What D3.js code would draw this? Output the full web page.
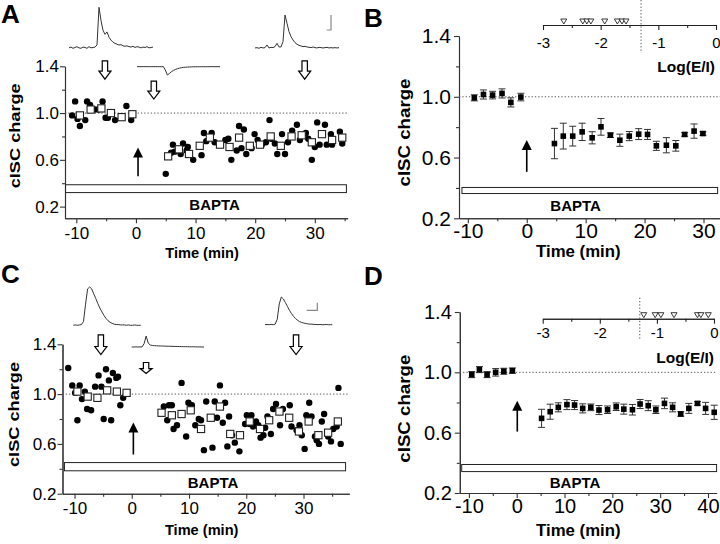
<!DOCTYPE html>
<html><head><meta charset="utf-8">
<script src="https://cdn.jsdelivr.net/npm/d3@7"></script>
<style>
body{margin:0;background:#fff;}
svg{display:block;font-family:"Liberation Sans",Arial,sans-serif;}
</style></head><body>
<svg id="fig" width="720" height="544"></svg>
<script>
// ---- data ----
// panel A: single cell, filled circles = single sweeps, open squares = 1-min means
const aCircles = [[-10.7,0.98],[-10.2,1.10],[-9.8,0.95],[-9.4,0.89],[-8.5,0.94],[-8.2,1.10],[-7.7,1.07],[-6.9,1.03],[-6.3,1.03],[-5.6,1.10],[-5.1,0.96],[-4.7,0.96],[-3.5,0.94],[-1.6,1.06],[-0.8,0.94],
  [5.0,0.48],[5.9,0.66],[6.2,0.73],[6.5,0.67],[7.5,0.65],[7.9,0.74],[8.5,0.68],[8.7,0.71],[9.6,0.60],[11.0,0.64],[11.4,0.83],[11.8,0.76],[12.7,0.83],[13.2,0.75],[15.0,0.77],[15.5,0.78],[16.0,0.60],[16.9,0.68],[17.3,0.89],[17.7,0.70],[18.1,0.86],[18.5,0.65],[19.4,0.70],[19.9,0.82],[20.4,0.77],[21.1,0.73],[21.8,0.75],[22.4,0.94],[22.7,0.78],[23.3,0.74],[23.7,0.65],[24.5,0.82],[25.0,0.65],[25.5,0.75],[26.2,0.85],[27.0,0.90],[27.5,0.77],[28.5,0.83],[28.9,0.78],[29.5,0.60],[30.0,0.71],[30.4,0.92],[30.8,0.73],[31.7,0.90],[32.0,0.73],[32.7,0.82],[32.9,0.73],[34.2,0.84],[34.6,0.74]];
const aSquares = [[-9.4,0.98],[-7.6,1.03],[-5.8,1.04],[-4.2,1.00],[-2.4,0.965],[-0.6,0.99],
  [5.4,0.63],[7.2,0.69],[8.9,0.65],[10.7,0.72],[12.4,0.79],[14.1,0.73],[15.7,0.71],[17.3,0.79],[19.1,0.72],[20.8,0.73],[22.6,0.80],[24.3,0.72],[26.1,0.80],[27.8,0.81],[29.5,0.75],[31.2,0.82],[32.9,0.77],[34.6,0.79]];

// panel C
const cCircles = [[-11.1,1.21],[-10.4,1.07],[-9.9,1.01],[-9.5,0.79],[-9.1,1.07],[-8.7,0.96],[-8.2,1.02],[-7.8,0.88],[-7.1,0.87],[-6.4,1.06],[-5.8,1.15],[-5.3,1.06],[-4.9,0.80],[-4.5,1.20],[-4.0,1.11],[-3.6,0.79],[-3.3,1.17],[-2.7,1.13],[-2.4,1.14],[-2.0,0.91],[-1.5,0.97],
  [5.6,0.90],[6.2,0.79],[6.5,0.91],[7.0,0.91],[7.3,0.72],[7.9,0.75],[8.7,1.09],[9.5,0.66],[9.9,0.93],[10.5,0.91],[11.1,0.75],[11.7,0.80],[12.1,0.79],[12.6,0.55],[13.0,0.94],[14.1,0.57],[14.5,0.94],[14.9,0.81],[15.4,1.07],[15.9,0.77],[16.3,0.93],[16.7,0.58],[17.0,0.82],[17.5,0.67],[18.0,0.61],[18.8,0.54],[19.8,0.76],[20.1,0.83],[20.6,0.76],[20.9,0.83],[21.2,0.74],[21.7,0.78],[22.1,0.75],[22.5,0.65],[23.0,0.67],[23.3,0.73],[23.7,0.82],[24.3,0.68],[24.7,0.88],[25.2,0.92],[25.9,0.75],[26.4,0.88],[27.6,0.91],[27.9,0.74],[28.8,0.71],[29.3,0.75],[29.7,0.67],[30.2,0.56],[30.5,0.83],[31.0,0.93],[31.4,0.82],[32.0,0.66],[32.3,0.63],[32.7,0.60],[33.2,0.78],[33.6,0.84],[34.3,0.66],[34.8,0.62],[35.2,0.72],[35.8,0.74],[36.1,1.05],[36.5,0.60]];
const cSquares = [[-9.5,1.02],[-7.7,0.98],[-6.0,0.97],[-4.3,1.03],[-2.6,1.02],[-0.9,1.01],
  [5.2,0.85],[7.0,0.83],[8.7,0.84],[10.3,0.87],[12.1,0.72],[13.8,0.81],[15.4,0.90],[17.2,0.68],[18.9,0.67],[20.6,0.78],[22.4,0.72],[24.0,0.79],[25.8,0.86],[27.5,0.81],[29.2,0.70],[30.9,0.78],[32.6,0.67],[34.3,0.69],[36.0,0.78]];

// panels B and D: mean, +/- error
const bMeans = [[-8.9,0.993,0.02],[-7.35,1.015,0.03],[-5.8,1.011,0.025],[-4.2,1.022,0.03],[-2.7,0.963,0.03],[-1.0,0.998,0.025],
  [4.7,0.692,0.1],[6.2,0.741,0.085],[7.8,0.741,0.065],[9.4,0.769,0.057],[11.1,0.73,0.04],[12.6,0.802,0.055],[14.2,0.747,0.015],[15.8,0.714,0.04],[17.4,0.741,0.03],[19.0,0.754,0.036],[20.5,0.752,0.033],[22.0,0.677,0.03],[23.7,0.681,0.05],[25.3,0.677,0.035],[26.8,0.752,0.012],[28.4,0.774,0.047],[29.9,0.758,0.012]];
const dMeans = [[-9.4,0.985,0.02],[-7.8,1.018,0.02],[-6.2,0.985,0.02],[-4.4,1.0,0.025],[-2.7,1.007,0.02],[-0.9,1.011,0.018],
  [5.2,0.695,0.06],[7.0,0.739,0.05],[8.7,0.768,0.03],[10.5,0.786,0.033],[12.1,0.783,0.03],[13.8,0.761,0.03],[15.5,0.768,0.022],[17.2,0.75,0.03],[19.0,0.752,0.025],[20.8,0.772,0.025],[22.4,0.756,0.033],[24.2,0.752,0.035],[25.8,0.79,0.03],[27.5,0.779,0.033],[29.1,0.752,0.025],[30.9,0.794,0.035],[32.6,0.768,0.03],[34.3,0.724,0.015],[36.0,0.761,0.033],[37.8,0.794,0.012],[39.5,0.761,0.04],[41.3,0.735,0.047]];

// insets: Log(E/I) of each cell
const bLogEI = [-2.64,-2.31,-2.24,-2.17,-1.93,-1.71,-1.63,-1.56];
const dLogEI = [-1.23,-1.03,-0.93,-0.70,-0.29,-0.23,-0.10];
const logCutoff = -1.3;

const yTicks = [0.2, 0.6, 1.0, 1.4];
const yMinor = [0.4, 0.8, 1.2];
const xTicks = [-10, 0, 10, 20, 30];
const xTicksD = [-10, 0, 10, 20, 30, 40];
const xMinor = [-5, 5, 15, 25, 35];
const logTicks = [-3, -2, -1, 0];
const logMinor = [-2.5, -1.5, -0.5];

// example current traces (normalised amplitude, evenly sampled)
const traceA1 = [0.01,0.03,0,0.02,0.04,0.01,0,0.03,0.02,0,0.04,0.01,0.02,0.03,0.08,1.0,0.68,0.44,0.34,0.4,0.27,0.2,0.15,0.12,0.1,0.08,0.09,0.06,0.05,0.06,0.04,0.03,0.05,0.02,0.04,0.03,0.01,0.03,0.02,0.04,0.01,0.02,0.03];
const traceA2 = [0,0.01,0,0.01,0,0.01,0,0,0.01,0,0.01,0,0,0.02,-0.4,-1.0,-0.82,-0.6,-0.45,-0.33,-0.24,-0.17,-0.12,-0.08,-0.06,-0.04,-0.03,-0.02,-0.01,-0.01,0,-0.01,0,0,-0.01,0,0,0.01,0,0,0,0];
const traceA3 = [0.01,0.02,0,0.03,0.01,0.02,0.1,0.01,0.03,0.02,0.05,0.15,0.04,0.04,0.2,1.0,0.75,0.5,0.35,0.25,0.17,0.12,0.09,0.07,0.05,0.06,0.04,0.03,0.02,0.04,0.02,0.01,0.03,0.02,0.01,0.02,0.03,0.01,0.02,0.01,0.02,0.01,0.02];
const traceC1 = [0,0.01,0,0.01,0.02,0.1,0.55,0.95,1.0,0.95,0.82,0.7,0.57,0.45,0.35,0.26,0.18,0.12,0.08,0.05,0.03,0.02,0.02,0.01,0.01,0.01,0,0.01,0,0,0.01,0,0,0];
const traceC2 = [0,0,0.01,0,0.01,0,0.3,1.0,0.35,0.18,0.14,0.12,0.11,0.1,0.09,0.09,0.08,0.07,0.07,0.06,0.06,0.05,0.05,0.04,0.04,0.03,0.03,0.03,0.02,0.02,0.02,0.01,0.01,0.01,0,0];
const traceC3 = [0,0.01,0,0.01,0,0.02,0.2,0.75,1.0,0.93,0.8,0.66,0.52,0.4,0.3,0.22,0.16,0.11,0.08,0.06,0.04,0.03,0.02,0.02,0.01,0.01,0,0.01,0,0,0.01,0,0,0];

const svg = d3.select("#fig");
const fmt = d => String(d);
const fmt1 = d3.format(".1f");

function makePanel(p) {
  const x = d3.scaleLinear().domain(p.xDomain).range(p.xRange);
  const y = d3.scaleLinear().domain(p.yDomain).range(p.yRange);
  const g = svg.append("g");
  const yBase = p.yRange[0], xBase = p.xRange[0];

  // minor ticks first, then main axes
  g.append("g").attr("transform", `translate(0,${yBase})`)
    .call(d3.axisBottom(x).tickValues(xMinor.filter(v => v < p.xDomain[1])).tickSize(3).tickFormat("").tickSizeOuter(0));
  g.append("g").attr("transform", `translate(${xBase},0)`)
    .call(d3.axisLeft(y).tickValues(yMinor).tickSize(3).tickFormat("").tickSizeOuter(0));
  const xa = g.append("g").attr("transform", `translate(0,${yBase})`)
    .call(d3.axisBottom(x).tickValues(p.xTicks).tickSize(5).tickPadding(p.xPad).tickSizeOuter(0).tickFormat(fmt));
  const ya = g.append("g").attr("transform", `translate(${xBase},0)`)
    .call(d3.axisLeft(y).tickValues(yTicks).tickSize(5).tickPadding(p.yPad).tickSizeOuter(0).tickFormat(fmt1));
  g.selectAll(".domain, .tick line").attr("stroke", "#333").attr("stroke-width", 1.1);
  [xa, ya].forEach(a => a.selectAll("text").attr("font-size", p.tickFont).attr("fill", "#000")
    .style("font-family", "'Liberation Sans', Arial, sans-serif"));

  // reference line at 1.0
  g.append("line").attr("x1", xBase).attr("x2", p.xRange[1]).attr("y1", y(1)).attr("y2", y(1))
    .attr("stroke", "#555").attr("stroke-dasharray", "1.3,2");

  // BAPTA bar
  g.append("rect").attr("x", x(p.bar[0])).attr("width", x(p.bar[1]) - x(p.bar[0]))
    .attr("y", y(p.bar[3])).attr("height", y(p.bar[2]) - y(p.bar[3]))
    .attr("fill", "#fff").attr("stroke", "#222").attr("stroke-width", 1);
  g.append("text").attr("x", x(p.barLabel[0])).attr("y", p.barLabel[1])
    .attr("text-anchor", "middle").attr("font-weight", "bold").attr("font-size", 15).text("BAPTA");

  // upward arrow at time 0
  const ax = x(p.arrow[0]), ay0 = y(p.arrow[1]), ay1 = y(p.arrow[2]);
  g.append("line").attr("x1", ax).attr("x2", ax).attr("y1", ay0).attr("y2", ay1 + 8)
    .attr("stroke", "#000").attr("stroke-width", 1.6);
  g.append("path").attr("d", `M${ax},${ay1} L${ax + 5},${ay1 + 10} L${ax - 5},${ay1 + 10} Z`).attr("fill", "#000");

  // axis titles
  g.append("text").attr("x", p.xTitle[0]).attr("y", p.xTitle[1]).attr("text-anchor", "middle")
    .attr("font-weight", "bold").attr("font-size", p.titleFont).text("Time (min)");
  g.append("text").attr("transform", `translate(${p.yTitle[0]},${p.yTitle[1]}) rotate(-90)`)
    .attr("text-anchor", "middle").attr("font-weight", "bold").attr("font-size", p.titleFont)
    .attr("textLength", p.yTitle[2]).attr("lengthAdjust", "spacingAndGlyphs").text("cISC charge");

  // panel letter
  svg.append("text").attr("x", p.letter[0]).attr("y", p.letter[1]).attr("font-weight", "bold")
    .attr("font-size", 26).text(p.name);
  return { g, x, y };
}

function scatterMarks(P, circles, squares) {
  P.g.append("g").selectAll("circle").data(circles).join("circle")
    .attr("cx", d => P.x(d[0])).attr("cy", d => P.y(d[1])).attr("r", 3.2).attr("fill", "#000");
  P.g.append("g").selectAll("rect").data(squares).join("rect")
    .attr("x", d => P.x(d[0]) - 3.6).attr("y", d => P.y(d[1]) - 3.6).attr("width", 7.2).attr("height", 7.2)
    .attr("fill", "#fff").attr("stroke", "#222").attr("stroke-width", 1.1);
}

function meanMarks(P, means) {
  const eg = P.g.append("g").attr("stroke", "#333").attr("stroke-width", 1);
  means.forEach(d => {
    const cx = P.x(d[0]), top = P.y(d[1] + d[2]), bot = P.y(d[1] - d[2]);
    eg.append("line").attr("x1", cx).attr("x2", cx).attr("y1", top).attr("y2", bot);
    eg.append("line").attr("x1", cx - 3.5).attr("x2", cx + 3.5).attr("y1", top).attr("y2", top);
    eg.append("line").attr("x1", cx - 3.5).attr("x2", cx + 3.5).attr("y1", bot).attr("y2", bot);
  });
  P.g.append("g").selectAll("rect").data(means).join("rect")
    .attr("x", d => P.x(d[0]) - 2.8).attr("y", d => P.y(d[1]) - 2.8).attr("width", 5.6).attr("height", 5.6)
    .attr("fill", "#000");
}

function hollowArrow(P, t, v0, v1) {
  const cx = P.x(t), y0 = P.y(v0), y1 = P.y(v1), sw = 2.7, hw = 6;
  const hh = Math.min(8, (y1 - y0) * 0.45);
  P.g.append("path")
    .attr("d", `M${cx - sw},${y0} L${cx + sw},${y0} L${cx + sw},${y1 - hh} L${cx + hw},${y1 - hh} L${cx},${y1} L${cx - hw},${y1 - hh} L${cx - sw},${y1 - hh} Z`)
    .attr("fill", "#fff").attr("stroke", "#000").attr("stroke-width", 1.2);
}

function trace(vals, x0, x1, base, amp) {
  const tx = d3.scaleLinear().domain([0, vals.length - 1]).range([x0, x1]);
  const ty = d3.scaleLinear().domain([0, 1]).range([base, base - amp]);
  svg.append("path").datum(vals).attr("fill", "none").attr("stroke", "#333").attr("stroke-width", 1)
    .attr("d", d3.line().x((d, i) => tx(i)).y(d => ty(d)));
}

function scaleBar(xv, yTop, yBot, xLeft) {
  svg.append("path").attr("d", `M${xv},${yTop} L${xv},${yBot} L${xLeft},${yBot}`)
    .attr("fill", "none").attr("stroke", "#888").attr("stroke-width", 1.2);
}

function inset(domainRange, yLine, tri, labelPad, titlePos, cut) {
  const lx = d3.scaleLinear().domain([-3, 0]).range(domainRange);
  const ig = svg.append("g");
  ig.append("line").attr("x1", lx(cut)).attr("x2", lx(cut)).attr("y1", Math.max(0, yLine - tri[1]))
    .attr("y2", yLine + tri[2]).attr("stroke", "#555").attr("stroke-dasharray", "1.3,2");
  ig.append("g").attr("transform", `translate(0,${yLine})`)
    .call(d3.axisBottom(lx).tickValues(logMinor).tickSize(3).tickFormat("").tickSizeOuter(0));
  const la = ig.append("g").attr("transform", `translate(0,${yLine})`)
    .call(d3.axisBottom(lx).tickValues(logTicks).tickSize(5).tickPadding(labelPad).tickSizeOuter(0).tickFormat(fmt));
  la.selectAll("text").attr("font-size", 15).attr("fill", "#000");
  ig.selectAll(".domain, .tick line").attr("stroke", "#222").attr("stroke-width", 1.1);
  ig.append("text").attr("x", titlePos[0]).attr("y", titlePos[1]).attr("text-anchor", "end")
    .attr("font-weight", "bold").attr("font-size", 15.5).text("Log(E/I)");
  ig.append("g").selectAll("path").data(tri[0]).join("path")
    .attr("d", d => `M${lx(d) - 3},${yLine - 6} L${lx(d) + 3},${yLine - 6} L${lx(d)},${yLine - 1} Z`)
    .attr("fill", "#fff").attr("stroke", "#222").attr("stroke-width", 0.9);
}

// ---- panel A ----
const A = makePanel({ name: "A", letter: [1, 23], xDomain: [-11.9, 35.5], xRange: [65, 347.6],
  yDomain: [0.1, 1.4], yRange: [218.3, 66.3], xTicks: xTicks, xPad: 4, yPad: 1, tickFont: 17, titleFont: 14.6,
  bar: [-11.8, 35.3, 0.32, 0.387], barLabel: [13.2, 210], arrow: [0.35, 0.46, 0.705],
  xTitle: [202, 258], yTitle: [19.5, 135.8, 105] });
scatterMarks(A, aCircles, aSquares);
hollowArrow(A, -5.2, 1.446, 1.29); hollowArrow(A, 3.0, 1.274, 1.12); hollowArrow(A, 28.3, 1.446, 1.29);
trace(traceA1, 69, 153, 48.3, 41);
trace(traceA2, 137, 220, 66.7, 8.3);
trace(traceA3, 255, 339, 48.3, 33.3);
scaleBar(331, 15, 30, 326.7);

// ---- panel B ----
const B = makePanel({ name: "B", letter: [364, 26.7], xDomain: [-11.5, 32.8], xRange: [459, 720],
  yDomain: [0.2, 1.4], yRange: [218.3, 36], xTicks: xTicks, xPad: 0, yPad: 3, tickFont: 21, titleFont: 16.8,
  bar: [-11.0, 32.4, 0.363, 0.403], barLabel: [8.3, 211], arrow: [0, 0.506, 0.715],
  xTitle: [578.3, 257], yTitle: [410, 132.5, 108] });
meanMarks(B, bMeans);
inset([543, 716], 25, [bLogEI, 28, 28], 7, [715, 71.5], logCutoff);

// ---- panel C ----
const C = makePanel({ name: "C", letter: [1, 283], xDomain: [-12.1, 38], xRange: [62.5, 349.3],
  yDomain: [0.2, 1.4], yRange: [493.7, 344.3], xTicks: xTicks, xPad: 3, yPad: 1, tickFont: 17, titleFont: 14.6,
  bar: [-11.76, 37.35, 0.384, 0.45], barLabel: [14.2, 488], arrow: [0.28, 0.515, 0.772],
  xTitle: [201.7, 535], yTitle: [18.5, 414.5, 105] });
scatterMarks(C, cCircles, cSquares);
hollowArrow(C, -5.4, 1.476, 1.318); hollowArrow(C, 2.5, 1.254, 1.165); hollowArrow(C, 28.7, 1.476, 1.318);
trace(traceC1, 73.3, 140.7, 325.3, 38.3);
trace(traceC2, 131.7, 204, 347, 11);
trace(traceC3, 265, 332.3, 324.7, 27.7);
scaleBar(317.3, 302.7, 310.3, 306.7);

// ---- panel D ----
const D = makePanel({ name: "D", letter: [364, 285], xDomain: [-11.9, 41.8], xRange: [459.8, 716.6],
  yDomain: [0.2, 1.4], yRange: [493, 312], xTicks: xTicksD, xPad: 1, yPad: 3, tickFont: 20, titleFont: 16.8,
  bar: [-11.5, 41.8, 0.342, 0.389], barLabel: [12.2, 488], arrow: [0.12, 0.607, 0.812],
  xTitle: [578.3, 536], yTitle: [410, 408.7, 108] });
meanMarks(D, dMeans);
inset([542.7, 714], 318.7, [dLogEI, 21, 21], 4, [714, 363], logCutoff);
</script>
</body></html>
